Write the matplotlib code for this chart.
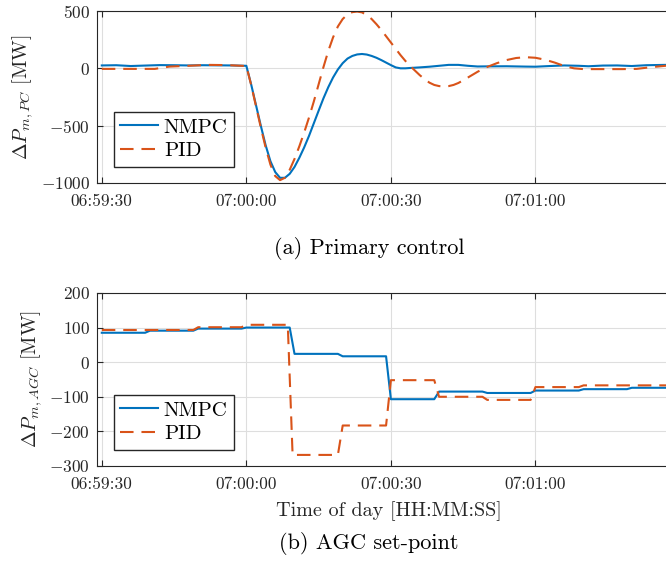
import matplotlib
matplotlib.use("Agg")
import matplotlib.pyplot as plt

plt.rcParams['font.family'] = 'serif'
plt.rcParams['font.serif'] = ['cmr10']
plt.rcParams['mathtext.fontset'] = 'cm'
plt.rcParams['axes.unicode_minus'] = False

# time in seconds after 06:59:30
xtick_pos = [0, 30, 60, 90]
xtick_lab = ['06:59:30', '07:00:00', '07:00:30', '07:01:00']

# (a) primary control, MW
t_pc_nmpc = [0, 3, 6, 9, 12, 15, 18, 21, 24, 27, 30,
             31, 32, 33, 34, 35, 36, 37, 38, 39, 40, 41, 42, 43, 44, 45, 46, 47, 48, 49,
             50, 51, 52, 53, 54, 55, 56, 57, 58, 59, 60, 61, 62, 63, 64, 66, 68, 70,
             72, 74, 76, 78, 80, 84, 88, 90, 93, 96, 99, 101, 104, 107, 110, 113, 117, 120]
pc_nmpc = [25, 27, 20, 24, 28, 27, 25, 27, 26, 25, 22,
           -140, -320, -500, -670, -810, -905, -955, -955, -920, -860, -780, -690, -590, -480, -370, -262, -165, -80, -10,
           45, 85, 108, 121, 125, 120, 108, 92, 72, 50, 28, 8, 0, 0, 3, 8, 14, 22,
           30, 30, 22, 16, 17, 18, 15, 14, 20, 25, 22, 18, 24, 25, 20, 27, 30, 30]

t_pc_pid = [0, 4, 8, 11, 14, 18, 22, 26, 30,
            31, 32, 33, 34, 35, 36, 37, 38, 39, 40, 41, 42, 43, 44, 45, 46, 47, 48, 49,
            50, 51, 52, 53, 54, 55, 56, 57, 58, 59, 60, 61, 62, 63, 64, 65, 66, 67, 68, 69,
            70, 71, 72, 73, 74, 75, 76, 77, 78, 79, 80, 82, 84, 86, 88, 90, 92, 94, 96, 98,
            100, 104, 108, 111, 114, 117, 120]
pc_pid = [-5, -5, -5, -5, 15, 22, 30, 28, 20,
          -145, -330, -515, -690, -840, -940, -975, -955, -885, -790, -680, -560, -430, -290, -140, 10, 150, 270, 365,
          430, 470, 490, 495, 488, 465, 430, 385, 335, 280, 225, 170, 115, 65, 20, -20, -60, -95, -125, -145,
          -155, -158, -155, -145, -128, -105, -80, -55, -30, -8, 12, 45, 72, 90, 97, 92, 75, 50, 20, 0,
          -7, -7, -7, -5, 10, 22, 28]

# (b) AGC set-point, MW
t_agc_nmpc = [0, 9, 10, 19, 20, 29, 30, 39, 40, 49, 50, 59, 60, 69, 70, 79, 80, 89, 90, 99, 100, 109, 110, 120]
agc_nmpc = [85, 85, 91, 91, 97, 97, 100, 100, 24, 24, 17, 17, -107, -107, -85, -85, -89, -89, -82, -82, -78, -78, -74, -74]

t_agc_pid = [0, 19, 20, 29, 30, 38.6, 39.6, 49, 50, 59, 60, 69, 70, 79, 80, 89, 90, 99, 100, 120]
agc_pid = [93, 93, 101, 101, 108, 108, -268, -268, -183, -183, -52, -52, -100, -100, -109, -109, -72, -72, -67, -67]

blue = '#0072BD'
orange = '#D95319'
dark = '#262626'

fig = plt.figure(figsize=(6.66, 5.66), dpi=100)
ax1 = fig.add_axes([0.1456, 0.6767, 0.8754, 0.3039])
ax2 = fig.add_axes([0.1456, 0.1767, 0.8754, 0.3057])

ax1.plot(t_pc_nmpc, pc_nmpc, color=blue, lw=1.5, label='NMPC')
ax1.plot(t_pc_pid, pc_pid, color=orange, lw=1.5, ls=(0, (6.5, 3.8)), label='PID')
ax2.plot(t_agc_nmpc, agc_nmpc, color=blue, lw=1.5, label='NMPC')
ax2.plot(t_agc_pid, agc_pid, color=orange, lw=1.5, ls=(0, (6.5, 3.8)), label='PID')

ax1.set_ylim(-1000, 500)
ax1.set_yticks([-1000, -500, 0, 500])
ax1.set_yticklabels(['$-1000$', '$-500$', '$0$', '$500$'])
ax2.set_ylim(-300, 200)
ax2.set_yticks([-300, -200, -100, 0, 100, 200])
ax2.set_yticklabels(['$-300$', '$-200$', '$-100$', '$0$', '$100$', '$200$'])

for ax in (ax1, ax2):
    ax.set_xlim(-1, 120)
    ax.set_xticks(xtick_pos)
    ax.set_xticklabels(xtick_lab)
    ax.grid(True, color='#dedede', linewidth=0.8)
    ax.set_axisbelow(True)
    for s in ax.spines.values():
        s.set_color(dark)
        s.set_linewidth(0.8)
    ax.tick_params(direction='in', length=4, width=0.8, top=True, right=True,
                   colors=dark, labelsize=12.5, pad=5)
    ax.tick_params(axis='x', pad=8)
    ax.legend(loc='lower left', bbox_to_anchor=(0.029, 0.095), borderaxespad=0,
              fontsize=15, fancybox=False, edgecolor=dark, framealpha=1,
              handlelength=1.8, handletextpad=0.3, borderpad=0.3, labelspacing=0.25)

ax1.set_ylabel(r'$\Delta P_{m,PC}$ [MW]', fontsize=14.5, color=dark)
ax2.set_ylabel(r'$\Delta P_{m,AGC}$ [MW]', fontsize=14.5, color=dark)
ax2.set_xlabel('Time of day [HH:MM:SS]', fontsize=14.5, color=dark, labelpad=6)

fig.text(0.554, 0.5618, '(a) Primary control', ha='center', va='center', fontsize=16)
fig.text(0.554, 0.0406, '(b) AGC set-point', ha='center', va='center', fontsize=16)

fig.savefig('out.png', dpi=100)
